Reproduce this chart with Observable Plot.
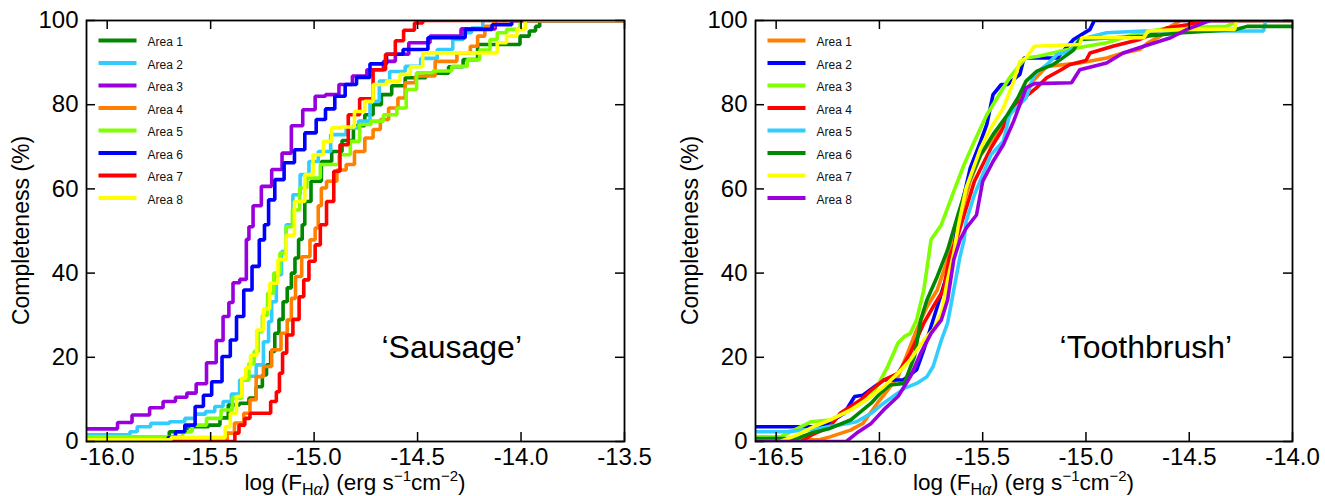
<!DOCTYPE html>
<html><head><meta charset="utf-8">
<script src="https://cdn.jsdelivr.net/npm/d3@7"></script>
<script src="https://cdn.jsdelivr.net/npm/@observablehq/plot@0.6"></script>
<style>
body{margin:0;background:#fff;}
#wrap{position:relative;width:1325px;height:496px;display:flex;}
#wrap svg{flex-shrink:0;display:block;}
</style></head><body><div id="wrap"></div>
<script>
const areaNames = ["Area 1","Area 2","Area 3","Area 4","Area 5","Area 6","Area 7","Area 8"];
const sausageColors = ["#008800","#33ccff","#9900dd","#ff8000","#80ff00","#0000ff","#ff0000","#ffff00"];
const toothbrushColors = ["#ff8000","#0000ff","#80ff00","#ff0000","#33ccff","#008800","#ffff00","#9900dd"];
const yTicks = [0,20,40,60,80,100];
const sausageXTicks = [-16.0,-15.5,-15.0,-14.5,-14.0,-13.5];
const toothbrushXTicks = [-16.5,-16.0,-15.5,-15.0,-14.5,-14.0];
const sausageDomain = [-16.1,-13.5];
const toothbrushDomain = [-16.6,-14.0];
const sausageLabel = [{x:-14.335, y:22.2, text:"\u2018Sausage\u2019"}];
const toothbrushLabel = [{x:-14.71, y:22.2, text:"\u2018Toothbrush\u2019"}];

// 'Sausage' completeness curves: [log F, completeness %]
const sArea1 = [[-16.1,0.8],[-15.72,0.8],[-15.68,2.3],[-15.55,3.5],[-15.47,3.9],[-15.44,5.6],[-15.39,8.7],[-15.33,9.1],[-15.30,10.3],[-15.26,13],[-15.24,15.8],[-15.22,18.2],[-15.20,21.4],[-15.18,25.7],[-15.16,29],[-15.14,33.2],[-15.12,36.5],[-15.10,40],[-15.085,43.6],[-15.065,48],[-15.05,51.5],[-15.04,57],[-14.99,61.8],[-14.94,66.5],[-14.89,68.9],[-14.84,71.5],[-14.78,75],[-14.73,77.6],[-14.70,80],[-14.65,82.4],[-14.60,84.5],[-14.52,86.4],[-14.40,87.5],[-14.30,89],[-14.26,90.7],[-14.16,94.3],[-14.03,94.3],[-13.98,96.3],[-13.94,97.5],[-13.92,98.6],[-13.90,100],[-13.5,100]];
const sArea2 = [[-16.1,1.6],[-15.90,1.6],[-15.88,2.3],[-15.83,3.5],[-15.75,4.3],[-15.65,4.7],[-15.60,5.5],[-15.55,6.5],[-15.50,7.1],[-15.46,8.3],[-15.42,9.5],[-15.38,11.3],[-15.34,14.6],[-15.30,15.5],[-15.26,18.2],[-15.23,23.7],[-15.21,28.5],[-15.20,33.2],[-15.165,39.6],[-15.15,45.1],[-15.12,51.5],[-15.085,58.6],[-15.05,63.4],[-15.0,66.5],[-14.96,68.9],[-14.88,72.9],[-14.81,74.5],[-14.76,76.1],[-14.70,80.8],[-14.67,85.6],[-14.60,87.9],[-14.52,89.1],[-14.45,91],[-14.36,93.1],[-14.30,95.5],[-14.26,97.1],[-14.22,98.2],[-14.15,100],[-13.5,100]];
const sArea3 = [[-16.1,3],[-15.97,3],[-15.93,4.5],[-15.83,6.3],[-15.76,8],[-15.70,9.5],[-15.64,10.5],[-15.59,11.5],[-15.55,13.7],[-15.49,18.7],[-15.456,24],[-15.424,29.7],[-15.40,33],[-15.384,37.7],[-15.335,38.5],[-15.32,48],[-15.31,51],[-15.28,56],[-15.23,60.6],[-15.18,64.6],[-15.13,68.5],[-15.09,75],[-15.02,78.8],[-14.97,82],[-14.92,82.4],[-14.84,84.8],[-14.79,86.8],[-14.70,88.3],[-14.63,90.3],[-14.585,92],[-14.50,94.7],[-14.38,96.3],[-14.20,98],[-14.05,100],[-13.5,100]];
const sArea4 = [[-16.1,0],[-15.43,0],[-15.41,2],[-15.36,4.4],[-15.32,6.7],[-15.30,9.9],[-15.26,15.4],[-15.23,17.8],[-15.18,21.8],[-15.14,25.7],[-15.12,28.9],[-15.10,34],[-15.08,39.2],[-15.04,43.9],[-15.0,47.9],[-14.99,50.7],[-14.97,56],[-14.96,60.2],[-14.92,61.8],[-14.86,64.5],[-14.83,65.8],[-14.78,68.9],[-14.73,72.1],[-14.70,74.1],[-14.66,76.5],[-14.62,79.2],[-14.57,81.6],[-14.55,85.2],[-14.47,86.8],[-14.36,90.3],[-14.26,92.3],[-14.23,93.9],[-14.19,96.3],[-14.16,98.6],[-14.10,100],[-13.5,100]];
const sArea5 = [[-16.1,1.1],[-15.65,1.1],[-15.62,2.3],[-15.56,3.9],[-15.48,5.5],[-15.42,7.5],[-15.37,10.3],[-15.33,14.6],[-15.30,18.5],[-15.28,21.4],[-15.26,26.1],[-15.24,30],[-15.21,35.2],[-15.18,40],[-15.15,44.8],[-15.12,51],[-15.09,55],[-15.05,60.2],[-15.02,62.6],[-14.92,65.8],[-14.84,68.1],[-14.81,71.3],[-14.75,75.3],[-14.70,76.1],[-14.63,77.6],[-14.57,79.2],[-14.54,83.6],[-14.47,87.6],[-14.38,88],[-14.29,89.1],[-14.23,90.7],[-14.17,93],[-14.13,95.5],[-14.10,97.1],[-14.04,97.9],[-13.97,100],[-13.5,100]];
const sArea6 = [[-16.1,0],[-15.72,0],[-15.69,1],[-15.65,2.3],[-15.60,3.9],[-15.55,8.3],[-15.52,11],[-15.47,14.2],[-15.42,20.2],[-15.39,24.1],[-15.36,29.7],[-15.32,36],[-15.28,41.6],[-15.25,47.9],[-15.23,51.5],[-15.21,57.4],[-15.17,62.2],[-15.12,66.2],[-15.07,69.3],[-15.02,73.3],[-14.96,76.5],[-14.93,79],[-14.87,82],[-14.83,84.8],[-14.76,86.5],[-14.70,89.7],[-14.60,92],[-14.54,93.1],[-14.36,95.9],[-14.18,97.9],[-14.10,99],[-13.99,100],[-13.5,100]];
const sArea7 = [[-16.1,0],[-15.39,0],[-15.376,2],[-15.35,3.9],[-15.32,5.5],[-15.30,6.7],[-15.23,6.7],[-15.19,9.5],[-15.175,11.8],[-15.16,16.2],[-15.145,21],[-15.12,25.3],[-15.085,29],[-15.06,34.4],[-15.04,38.4],[-15.01,42.8],[-14.98,46.7],[-14.96,51.5],[-14.92,57],[-14.89,64.2],[-14.86,70.5],[-14.81,77.6],[-14.75,81.4],[-14.68,88.3],[-14.63,92],[-14.585,95.2],[-14.55,97.7],[-14.48,99.4],[-14.47,100],[-13.5,100]];
const sArea8 = [[-16.1,0.4],[-15.70,0.4],[-15.68,1],[-15.44,1],[-15.42,3.5],[-15.39,6.7],[-15.36,10.7],[-15.34,15],[-15.32,17.5],[-15.295,20.5],[-15.26,26.5],[-15.23,31.5],[-15.20,37.6],[-15.15,43.2],[-15.12,49],[-15.07,57],[-15.02,63.4],[-14.99,68.1],[-14.92,71.3],[-14.91,74.5],[-14.83,74.7],[-14.78,78.4],[-14.73,80.8],[-14.70,84.8],[-14.60,85.6],[-14.57,87.2],[-14.50,89],[-14.45,92.3],[-14.13,92.3],[-14.10,94.7],[-14.04,96.3],[-14.0,97.9],[-13.96,100],[-13.5,100]];

// 'Toothbrush' completeness curves
const tArea1 = [[-16.6,0.4],[-16.29,0.4],[-16.24,1.1],[-16.14,2.7],[-16.08,4.3],[-16.01,9.1],[-15.96,12.2],[-15.91,15.4],[-15.87,20.2],[-15.82,26.5],[-15.77,32],[-15.72,36],[-15.67,43.2],[-15.64,47.9],[-15.60,55],[-15.56,62],[-15.51,68],[-15.43,73.3],[-15.37,78],[-15.30,83],[-15.25,86],[-15.19,89.1],[-15.03,89.9],[-14.90,91.1],[-14.82,92.3],[-14.74,93.1],[-14.70,94.7],[-14.64,96.3],[-14.59,98.6],[-14.54,100],[-14.0,100]];
const tArea2 = [[-16.6,3.5],[-16.30,3.5],[-16.24,4.5],[-16.17,6.7],[-16.12,10.7],[-16.08,11],[-15.98,14.6],[-15.885,14.6],[-15.82,17],[-15.785,21.8],[-15.75,27.3],[-15.72,32],[-15.67,40],[-15.64,45.5],[-15.62,52],[-15.59,58.6],[-15.56,65],[-15.51,71.3],[-15.48,75.3],[-15.45,82.4],[-15.41,84.8],[-15.38,84.8],[-15.32,87.2],[-15.30,91.1],[-15.14,91.1],[-15.06,95.5],[-14.98,97.9],[-14.96,100],[-14.0,100]];
const tArea3 = [[-16.6,1.1],[-16.48,1.1],[-16.43,2.3],[-16.33,4.7],[-16.24,5.1],[-16.14,7.5],[-16.04,10.7],[-15.995,14.6],[-15.96,17.8],[-15.91,23.4],[-15.88,24.9],[-15.85,25.7],[-15.82,28.9],[-15.785,36],[-15.75,47.9],[-15.70,51.5],[-15.64,59.4],[-15.59,65.8],[-15.54,71.3],[-15.48,77.6],[-15.43,81.6],[-15.37,86.4],[-15.32,89.5],[-15.29,91.1],[-15.23,91.5],[-15.10,93],[-14.90,94.7],[-14.74,97.1],[-14.60,98.2],[-14.32,98.6],[-14.26,100],[-14.0,100]];
const tArea4 = [[-16.6,0],[-16.38,0],[-16.33,1.5],[-16.24,3.5],[-16.19,6.7],[-16.14,8.3],[-16.09,9.9],[-16.04,12.2],[-15.98,14.6],[-15.91,16.2],[-15.85,21],[-15.785,28.1],[-15.74,32],[-15.69,36],[-15.66,43.9],[-15.62,49],[-15.59,53.8],[-15.54,61.8],[-15.46,69.7],[-15.41,73.7],[-15.37,77.6],[-15.32,80.8],[-15.24,84],[-15.19,86.4],[-15.12,88.3],[-15.08,89.5],[-15.0,90.5],[-14.98,92.3],[-14.87,93.9],[-14.74,95.5],[-14.61,98.2],[-14.51,99],[-14.42,100],[-14.0,100]];
const tArea5 = [[-16.6,2.3],[-16.45,2.3],[-16.30,3],[-16.11,4.7],[-16.04,6.7],[-15.98,9.1],[-15.91,11.5],[-15.88,12.6],[-15.82,13.8],[-15.77,15.4],[-15.74,17.8],[-15.70,24.1],[-15.67,28.1],[-15.64,36],[-15.61,43.9],[-15.59,47.9],[-15.58,52.3],[-15.54,58.6],[-15.50,63.4],[-15.46,68.1],[-15.40,71.3],[-15.37,77.6],[-15.29,81.6],[-15.25,87.2],[-15.19,89.5],[-15.14,91.9],[-15.08,92.7],[-15.03,95.5],[-14.90,97.1],[-14.72,97.5],[-14.14,97.5],[-14.13,100],[-14.0,100]];
const tArea6 = [[-16.6,0.7],[-16.40,0.7],[-16.33,2],[-16.24,3.1],[-16.14,5.1],[-16.08,7.5],[-16.04,9.1],[-15.995,11.5],[-15.95,13.4],[-15.88,13.8],[-15.83,20.2],[-15.80,28.9],[-15.77,33.6],[-15.72,39.2],[-15.67,45.5],[-15.62,53.8],[-15.58,60.2],[-15.51,68.1],[-15.45,72.9],[-15.38,77.6],[-15.33,81.6],[-15.29,85.6],[-15.24,87.9],[-15.16,89.5],[-15.09,91.9],[-15.06,93],[-15.03,95.5],[-14.70,96.3],[-14.53,97.1],[-14.27,97.9],[-14.22,98.6],[-14.0,98.6]];
const tArea7 = [[-16.6,0],[-16.48,0],[-16.40,1.5],[-16.32,3.5],[-16.24,5.1],[-16.14,7.5],[-16.04,10.7],[-15.98,13],[-15.91,16.2],[-15.85,19.4],[-15.785,24.1],[-15.74,26.5],[-15.70,30.5],[-15.67,38.4],[-15.64,44.8],[-15.62,50.7],[-15.58,60.2],[-15.51,69.7],[-15.46,74.5],[-15.40,79.2],[-15.35,85.6],[-15.32,90.3],[-15.29,91.1],[-15.25,93.9],[-15.03,94.3],[-15.02,95.9],[-14.72,95.9],[-14.70,97.5],[-14.53,97.9],[-14.28,97.9],[-14.27,100],[-14.0,100]];
const tArea8 = [[-16.6,0],[-16.16,0],[-16.11,2],[-16.04,4.3],[-15.98,7.5],[-15.91,10.7],[-15.85,15.4],[-15.80,21],[-15.75,25.7],[-15.70,28.9],[-15.67,33.6],[-15.64,43.2],[-15.61,47.9],[-15.58,50.7],[-15.53,53.8],[-15.50,61.8],[-15.45,66.5],[-15.40,70.5],[-15.35,76.1],[-15.32,80],[-15.29,84],[-15.25,85],[-15.07,85.2],[-15.03,88.3],[-14.90,89.9],[-14.82,92.3],[-14.72,93.9],[-14.59,95.9],[-14.51,97.9],[-14.40,100],[-14.0,100]];

const FONT = '"Liberation Sans", Arial, Helvetica, sans-serif';

function panel({series, colors, xDomain, xTicks, annot, width, marginLeft, marginRight, curve}) {
  const H = 496, mt = 20, mb = 55;
  const frameH = H - mt - mb;
  const frameW = width - marginLeft - marginRight;
  const tick = 9;
  const data = series.flatMap((s, i) => s.map(([x, y]) => ({x, y, area: areaNames[i]})));
  const svg = Plot.plot({
    width, height: H, marginLeft, marginRight, marginTop: mt, marginBottom: mb,
    style: {fontFamily: FONT, fontSize: "24px", color: "black", background: "white", overflow: "visible"},
    x: {domain: xDomain, ticks: xTicks, tickFormat: d => d.toFixed(1), tickSize: 0, tickPadding: 6, label: null},
    y: {domain: [0, 100], ticks: yTicks, tickSize: 0, tickPadding: 8, label: null},
    color: {domain: areaNames, range: colors},
    marks: [
      Plot.line(data, {x: "x", y: "y", z: "area", stroke: "area", strokeWidth: 3.6, curve, clip: true, strokeLinejoin: "miter"}),
      Plot.tickX(xTicks, {x: d => d, insetTop: frameH - tick, stroke: "black", strokeWidth: 1.5}),
      Plot.tickX(xTicks, {x: d => d, insetBottom: frameH - tick, stroke: "black", strokeWidth: 1.5}),
      Plot.tickY(yTicks, {y: d => d, insetRight: frameW - tick, stroke: "black", strokeWidth: 1.5}),
      Plot.tickY(yTicks, {y: d => d, insetLeft: frameW - tick, stroke: "black", strokeWidth: 1.5}),
      Plot.frame({stroke: "black", strokeWidth: 1.8}),
      Plot.text(annot, {x: "x", y: "y", text: "text", fontSize: 32, fill: "black"})
    ]
  });
  const g = d3.select(svg);
  // legend
  const lg = g.append("g").attr("text-anchor", "start");
  areaNames.forEach((name, i) => {
    const yy = mt + 20.5 + 22.5 * i;
    lg.append("line").attr("x1", marginLeft + 12.5).attr("x2", marginLeft + 50.5)
      .attr("y1", yy).attr("y2", yy).attr("stroke", colors[i]).attr("stroke-width", 4);
    lg.append("text").attr("x", marginLeft + 61.5).attr("y", yy + 5.5).attr("text-anchor", "start")
      .attr("font-size", 12).attr("fill", "#111").attr("font-family", FONT).text(name);
  });
  // x label with sub/superscripts
  const cx = marginLeft + frameW / 2;
  const t = g.append("text").attr("x", cx).attr("y", 490).attr("text-anchor", "middle")
    .attr("font-size", 22.5).attr("font-family", FONT).attr("fill", "black");
  t.append("tspan").text("log (F");
  t.append("tspan").attr("font-size", 16).attr("dy", 5).text("H");
  t.append("tspan").attr("font-size", 16).attr("font-style", "italic").text("\u03b1");
  t.append("tspan").attr("dy", -5).text(") (erg s");
  t.append("tspan").attr("font-size", 15).attr("dy", -9).text("\u22121");
  t.append("tspan").attr("dy", 9).text("cm");
  t.append("tspan").attr("font-size", 15).attr("dy", -9).text("\u22122");
  t.append("tspan").attr("dy", 9).text(")");
  // y label
  g.append("text").attr("transform", `translate(${marginLeft - 65},${mt + frameH / 2}) rotate(-90)`)
    .attr("text-anchor", "middle").attr("dy", "0.35em").attr("font-size", 23)
    .attr("font-family", FONT).attr("fill", "black").text("Completeness (%)");
  return svg;
}

const wrap = document.getElementById("wrap");
wrap.appendChild(panel({
  series: [sArea1, sArea2, sArea3, sArea4, sArea5, sArea6, sArea7, sArea8],
  colors: sausageColors, xDomain: sausageDomain, xTicks: sausageXTicks, annot: sausageLabel,
  width: 662, marginLeft: 86, marginRight: 38, curve: "step"
}));
wrap.appendChild(panel({
  series: [tArea1, tArea2, tArea3, tArea4, tArea5, tArea6, tArea7, tArea8],
  colors: toothbrushColors, xDomain: toothbrushDomain, xTicks: toothbrushXTicks, annot: toothbrushLabel,
  width: 663, marginLeft: 93, marginRight: 33, curve: "linear"
}));
</script></body></html>
